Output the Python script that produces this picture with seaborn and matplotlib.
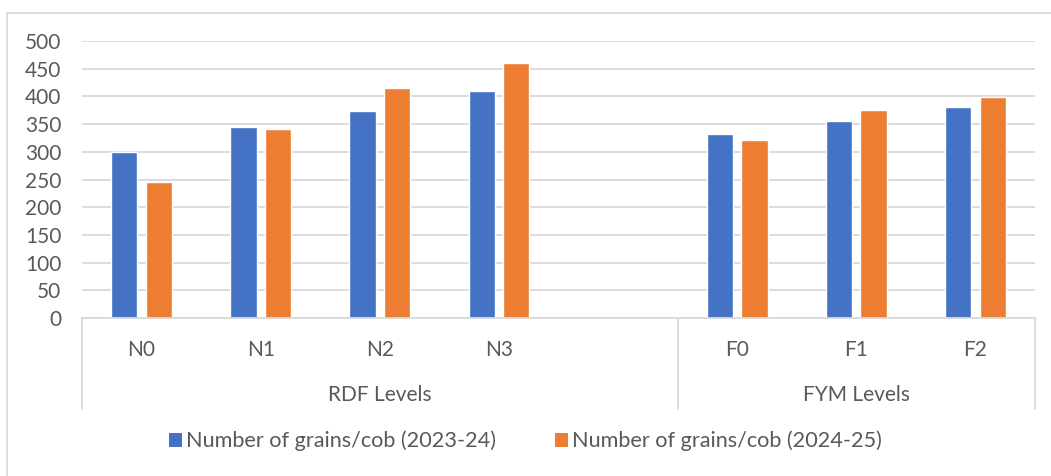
import matplotlib
matplotlib.use("Agg")
import matplotlib.pyplot as plt
import matplotlib.transforms as mtransforms
from matplotlib.patches import Patch
from matplotlib.lines import Line2D
import pandas as pd
import seaborn as sns

# Treatment levels; an empty slot separates the two groups
categories = ["N0", "N1", "N2", "N3", "", "F0", "F1", "F2"]
grains_2023 = [300, 345, 373, 409, None, 333, 355, 381]
grains_2024 = [245, 342, 415, 460, None, 322, 376, 399]
series_names = ["Number of grains/cob (2023-24)", "Number of grains/cob (2024-25)"]
groups = ["RDF Levels", "FYM Levels"]
y_ticks = list(range(0, 501, 50))

slots = [f"slot{i}" for i in range(len(categories))]
rows = []
for slot, a, b in zip(slots, grains_2023, grains_2024):
    if a is not None:
        rows.append({"slot": slot, "series": series_names[0], "value": a})
        rows.append({"slot": slot, "series": series_names[1], "value": b})
df = pd.DataFrame(rows)

sns.set_theme(style="white")
plt.rcParams["font.family"] = ["Lato", "DejaVu Sans"]

text_color = "#595959"
grid_color = "#D9D9D9"
palette = {series_names[0]: "#4472C4", series_names[1]: "#ED7D31"}
fs = 15

W, H = 1051, 476
fig = plt.figure(figsize=(W / 100, H / 100), dpi=100)
ax_left, ax_right = 82 / W, 1035 / W
ax_bottom, ax_top = 1 - 318 / H, 1 - 41 / H
ax = fig.add_axes([ax_left, ax_bottom, ax_right - ax_left, ax_top - ax_bottom])

sns.barplot(data=df, x="slot", y="value", hue="series", order=slots,
            hue_order=series_names, palette=palette, width=0.58, gap=0.24,
            saturation=1, ax=ax, legend=False)

ax.set_xlim(-0.5, len(categories) - 0.5)
ax.set_ylim(0, 500)
ax.set_yticks(y_ticks)
ax.set_yticklabels([str(v) for v in y_ticks], color=text_color, fontsize=fs)
ax.yaxis.grid(True, color=grid_color, linewidth=1.3)
ax.set_axisbelow(True)
ax.tick_params(axis="y", length=0, pad=15)
ax.tick_params(axis="x", length=0, pad=16)
ax.set_xticks(range(len(categories)))
ax.set_xticklabels(categories, color=text_color, fontsize=fs)
ax.set_xlabel("")
ax.set_ylabel("")
for side in ["left", "right", "top"]:
    ax.spines[side].set_visible(False)
ax.spines["bottom"].set_color(grid_color)
ax.spines["bottom"].set_linewidth(1.3)

# Multi-level category axis: group dividers and group names
trans = mtransforms.blended_transform_factory(ax.transData, ax.transAxes)
drop = -(409 - 318) / (318 - 41)
for xpos in [-0.5, 4.5, len(categories) - 0.5]:
    ax.add_line(Line2D([xpos, xpos], [0, drop], transform=trans, color=grid_color,
                       linewidth=1.3, clip_on=False))
label_y = -(395 - 318) / (318 - 41)
ax.text(2.0, label_y, groups[0], transform=trans, ha="center", va="center",
        color=text_color, fontsize=fs)
ax.text(6.0, label_y, groups[1], transform=trans, ha="center", va="center",
        color=text_color, fontsize=fs)

# Legend below the axis
handles = [Patch(facecolor=palette[s], edgecolor="none", label=s) for s in series_names]
fig.legend(handles=handles, loc="center", bbox_to_anchor=(0.5, 1 - 441 / H), ncol=2,
           frameon=False, fontsize=15.6, labelcolor=text_color, handlelength=0.6,
           handleheight=0.6, handletextpad=0.2, columnspacing=2.7)

# Chart area frame
fig.add_artist(Line2D([7 / W, 1], [1 - 13 / H, 1 - 13 / H], transform=fig.transFigure,
                      color=grid_color, linewidth=1.3))
fig.add_artist(Line2D([7 / W, 7 / W], [0, 1 - 13 / H], transform=fig.transFigure,
                      color=grid_color, linewidth=1.3))

fig.savefig("out.png", dpi=100, facecolor="white")
